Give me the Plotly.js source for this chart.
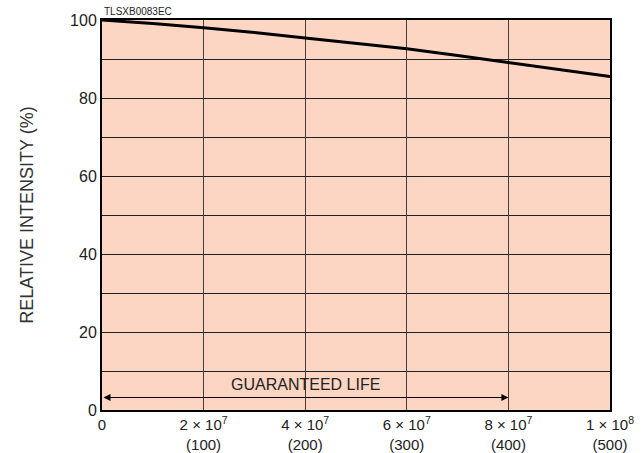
<!DOCTYPE html>
<html><head><meta charset="utf-8">
<script src="https://cdn.plot.ly/plotly-3.0.1.min.js"></script>
<style>body{margin:0;background:#fff}#c{width:644px;height:453px}</style>
</head><body><div id="c"></div>
<script>
const hours = [0, 1e7, 2e7, 3e7, 4e7, 5e7, 6e7, 7e7, 8e7, 9e7, 1e8];
const intensity = [100, 99.1, 98.0, 96.8, 95.4, 94.0, 92.6, 90.9, 89.1, 87.3, 85.5];
const xTickVals = [0, 2e7, 4e7, 6e7, 8e7, 1e8];
const xTickText = ['0', '2 × 10<sup>7</sup><br>(100)', '4 × 10<sup>7</sup><br>(200)', '6 × 10<sup>7</sup><br>(300)', '8 × 10<sup>7</sup><br>(400)', '1 × 10<sup>8</sup><br>(500)'];
const yTickVals = [0, 20, 40, 60, 80, 100];
const lifeStart = 0, lifeEnd = 8e7, lifeY = 3.2;
const lifeLabel = 'GUARANTEED LIFE';
const codeLabel = 'TLSXB0083EC';

const font = 'Liberation Sans, Arial, Helvetica, sans-serif';
const trace = {x: hours, y: intensity, mode: 'lines', line: {color: '#000', width: 3}, hoverinfo: 'skip'};

const layout = {
  width: 644, height: 453,
  margin: {l: 102, r: 34, t: 20, b: 43},
  paper_bgcolor: '#fff', plot_bgcolor: '#fdd5c3',
  showlegend: false,
  font: {family: font, color: '#222'},
  xaxis: {range: [0, 1e8], tickvals: xTickVals, ticktext: xTickText, showgrid: true, gridcolor: '#4a3c38', gridwidth: 1,
          zeroline: false, showline: true, mirror: true, linecolor: '#000', linewidth: 2, ticks: '',
          tickfont: {size: 15, color: '#222', family: font}, fixedrange: true},
  yaxis: {range: [0, 100], tickvals: yTickVals, ticks: '', showgrid: true, gridcolor: '#222', gridwidth: 1,
          minor: {dtick: 10, tick0: 0, showgrid: true, gridcolor: '#222', gridwidth: 1, ticks: ''},
          zeroline: false, showline: true, mirror: true, linecolor: '#000', linewidth: 2,
          tickfont: {size: 16, color: '#222', family: font},
          title: {text: 'RELATIVE INTENSITY (%)', font: {size: 18, color: '#333', family: font}, standoff: 32}, fixedrange: true},
  annotations: [
    {x: lifeEnd, y: lifeY, ax: lifeStart, ay: lifeY, xref: 'x', yref: 'y', axref: 'x', ayref: 'y', text: '',
     showarrow: true, arrowhead: 2, arrowside: 'end+start', arrowsize: 1.4, arrowwidth: 1, arrowcolor: '#000', standoff: 0, startstandoff: 0},
    {x: (lifeStart + lifeEnd) / 2, y: lifeY, xref: 'x', yref: 'y', yshift: 13, text: lifeLabel, showarrow: false,
     font: {size: 16, color: '#222', family: font}},
    {x: 0, y: 1, xref: 'paper', yref: 'paper', xanchor: 'left', yanchor: 'bottom', yshift: 1, text: codeLabel, showarrow: false,
     font: {size: 10, color: '#222', family: font}}
  ]
};
Plotly.newPlot('c', [trace], layout, {displayModeBar: false, staticPlot: true});
</script></body></html>
